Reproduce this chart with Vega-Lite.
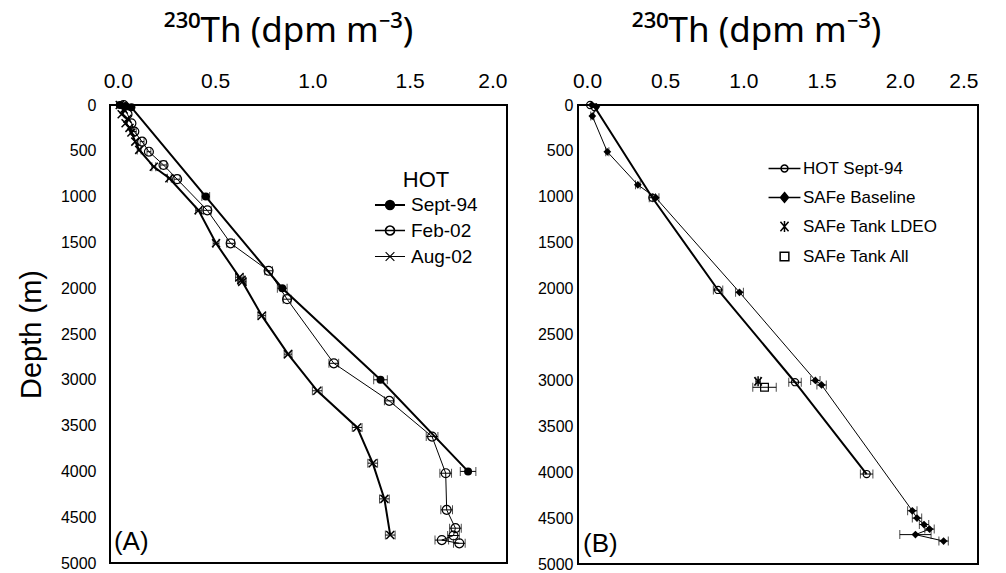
{
  "$schema": "https://vega.github.io/schema/vega-lite/v6.json",
  "background": "white",
  "padding": {"left": 16, "top": 12, "right": 5, "bottom": 5},
  "config": {
    "view": {"stroke": "black", "strokeWidth": 2},
    "font": "Liberation Sans",
    "axis": {"grid": false, "domain": false, "ticks": false, "labelColor": "black", "titleColor": "black", "titleFontWeight": "normal", "labelFont": "Liberation Sans", "titleFont": "Liberation Sans"},
    "legend": {"labelFont": "Liberation Sans", "titleFont": "Liberation Sans", "labelColor": "black", "titleColor": "black"}
  },
  "datasets": {
    "A": [
      {"s": "Sept-94", "d": 0, "v": 0.01, "e": 0},
      {"s": "Sept-94", "d": 10, "v": 0.04, "e": 0},
      {"s": "Sept-94", "d": 25, "v": 0.07, "e": 0},
      {"s": "Sept-94", "d": 1000, "v": 0.452, "e": 0.02},
      {"s": "Sept-94", "d": 2000, "v": 0.845, "e": 0.025},
      {"s": "Sept-94", "d": 3000, "v": 1.35, "e": 0.035},
      {"s": "Sept-94", "d": 4000, "v": 1.8, "e": 0.04},
      {"s": "Feb-02", "d": 0, "v": 0.03, "e": 0},
      {"s": "Feb-02", "d": 100, "v": 0.05, "e": 0},
      {"s": "Feb-02", "d": 200, "v": 0.07, "e": 0},
      {"s": "Feb-02", "d": 290, "v": 0.085, "e": 0.01},
      {"s": "Feb-02", "d": 400, "v": 0.125, "e": 0.01},
      {"s": "Feb-02", "d": 510, "v": 0.16, "e": 0.01},
      {"s": "Feb-02", "d": 655, "v": 0.235, "e": 0.015},
      {"s": "Feb-02", "d": 810, "v": 0.305, "e": 0.015},
      {"s": "Feb-02", "d": 1150, "v": 0.46, "e": 0.02},
      {"s": "Feb-02", "d": 1510, "v": 0.58, "e": 0.02},
      {"s": "Feb-02", "d": 1810, "v": 0.775, "e": 0.02},
      {"s": "Feb-02", "d": 2120, "v": 0.87, "e": 0.02},
      {"s": "Feb-02", "d": 2820, "v": 1.11, "e": 0.025},
      {"s": "Feb-02", "d": 3230, "v": 1.395, "e": 0.025},
      {"s": "Feb-02", "d": 3620, "v": 1.615, "e": 0.03},
      {"s": "Feb-02", "d": 4020, "v": 1.685, "e": 0.03},
      {"s": "Feb-02", "d": 4420, "v": 1.69, "e": 0.03},
      {"s": "Feb-02", "d": 4620, "v": 1.735, "e": 0.03},
      {"s": "Feb-02", "d": 4700, "v": 1.725, "e": 0.03},
      {"s": "Feb-02", "d": 4750, "v": 1.665, "e": 0.035},
      {"s": "Feb-02", "d": 4785, "v": 1.755, "e": 0.03},
      {"s": "Aug-02", "d": 0, "v": 0.01, "e": 0},
      {"s": "Aug-02", "d": 50, "v": 0.03, "e": 0},
      {"s": "Aug-02", "d": 100, "v": 0.02, "e": 0},
      {"s": "Aug-02", "d": 150, "v": 0.05, "e": 0},
      {"s": "Aug-02", "d": 200, "v": 0.04, "e": 0},
      {"s": "Aug-02", "d": 250, "v": 0.06, "e": 0},
      {"s": "Aug-02", "d": 300, "v": 0.07, "e": 0},
      {"s": "Aug-02", "d": 400, "v": 0.09, "e": 0},
      {"s": "Aug-02", "d": 490, "v": 0.11, "e": 0.01},
      {"s": "Aug-02", "d": 675, "v": 0.185, "e": 0.01},
      {"s": "Aug-02", "d": 800, "v": 0.265, "e": 0.01},
      {"s": "Aug-02", "d": 1150, "v": 0.415, "e": 0.015},
      {"s": "Aug-02", "d": 1510, "v": 0.505, "e": 0.015},
      {"s": "Aug-02", "d": 1880, "v": 0.625, "e": 0.02},
      {"s": "Aug-02", "d": 1910, "v": 0.635, "e": 0.02},
      {"s": "Aug-02", "d": 1930, "v": 0.64, "e": 0.02},
      {"s": "Aug-02", "d": 2300, "v": 0.74, "e": 0.02},
      {"s": "Aug-02", "d": 2720, "v": 0.875, "e": 0.02},
      {"s": "Aug-02", "d": 3120, "v": 1.025, "e": 0.025},
      {"s": "Aug-02", "d": 3520, "v": 1.23, "e": 0.025},
      {"s": "Aug-02", "d": 3910, "v": 1.31, "e": 0.025},
      {"s": "Aug-02", "d": 4300, "v": 1.37, "e": 0.025},
      {"s": "Aug-02", "d": 4695, "v": 1.4, "e": 0.025}
    ],
    "B": [
      {"s": "HOT Sept-94", "d": 0, "v": 0.02, "e": 0},
      {"s": "HOT Sept-94", "d": 25, "v": 0.05, "e": 0},
      {"s": "HOT Sept-94", "d": 1010, "v": 0.418, "e": 0.02},
      {"s": "HOT Sept-94", "d": 2015, "v": 0.838, "e": 0.03},
      {"s": "HOT Sept-94", "d": 3020, "v": 1.33, "e": 0.04},
      {"s": "HOT Sept-94", "d": 4020, "v": 1.788, "e": 0.04},
      {"s": "SAFe Baseline", "d": 0, "v": 0.03, "e": 0},
      {"s": "SAFe Baseline", "d": 20, "v": 0.06, "e": 0},
      {"s": "SAFe Baseline", "d": 120, "v": 0.034, "e": 0.01},
      {"s": "SAFe Baseline", "d": 510, "v": 0.13, "e": 0.01},
      {"s": "SAFe Baseline", "d": 870, "v": 0.325, "e": 0.015},
      {"s": "SAFe Baseline", "d": 1010, "v": 0.44, "e": 0.02},
      {"s": "SAFe Baseline", "d": 2040, "v": 0.975, "e": 0.025},
      {"s": "SAFe Baseline", "d": 3000, "v": 1.46, "e": 0.03},
      {"s": "SAFe Baseline", "d": 3050, "v": 1.5, "e": 0.03},
      {"s": "SAFe Baseline", "d": 4420, "v": 2.08, "e": 0.03},
      {"s": "SAFe Baseline", "d": 4500, "v": 2.11, "e": 0.03},
      {"s": "SAFe Baseline", "d": 4570, "v": 2.155, "e": 0.03},
      {"s": "SAFe Baseline", "d": 4620, "v": 2.19, "e": 0.03},
      {"s": "SAFe Baseline", "d": 4680, "v": 2.1, "e": 0.1},
      {"s": "SAFe Baseline", "d": 4750, "v": 2.28, "e": 0.03},
      {"s": "SAFe Tank LDEO", "d": 3010, "v": 1.094, "e": 0.015},
      {"s": "SAFe Tank All", "d": 3075, "v": 1.135, "e": 0.075}
    ]
  },
  "resolve": {"scale": {"shape": "independent", "fill": "independent", "stroke": "independent", "strokeWidth": "independent"}, "legend": {"shape": "independent", "fill": "independent", "stroke": "independent", "strokeWidth": "independent"}},
  "bounds": "flush",
  "spacing": 71,
  "hconcat": [
    {
      "width": 397,
      "height": 458,
      "data": {"name": "A"},
      "encoding": {
        "x": {"field": "v", "type": "quantitative", "scale": {"domain": [-0.04, 2.0], "nice": false, "zero": false},
              "axis": {"orient": "top", "values": [0, 0.5, 1, 1.5, 2], "format": ".1f", "title": "²³⁰Th (dpm m⁻³)", "titleFont": "Noto Sans", "labelFontSize": 21, "titleFontSize": 35, "labelPadding": 14, "titlePadding": 22, "titleX": 178}},
        "y": {"field": "d", "type": "quantitative", "scale": {"domain": [0, 5000], "nice": false, "reverse": true},
              "axis": {"values": [0, 500, 1000, 1500, 2000, 2500, 3000, 3500, 4000, 4500, 5000], "format": "d", "title": "Depth (m)", "labelFontSize": 16, "titleFontSize": 29, "labelPadding": 14, "titlePadding": 14}}
      },
      "layer": [
        {"transform": [{"filter": "datum.s === 'Sept-94'"}], "mark": {"type": "line", "color": "black", "strokeWidth": 2}, "encoding": {"order": {"field": "d", "type": "quantitative"}}},
        {"transform": [{"filter": "datum.s === 'Feb-02'"}], "mark": {"type": "line", "color": "black", "strokeWidth": 1}, "encoding": {"order": {"field": "d", "type": "quantitative"}}},
        {"transform": [{"filter": "datum.s === 'Aug-02'"}], "mark": {"type": "line", "color": "black", "strokeWidth": 2}, "encoding": {"order": {"field": "d", "type": "quantitative"}}},
        {"transform": [{"filter": "datum.e > 0"}], "mark": {"type": "errorbar", "color": "black", "ticks": {"size": 9, "color": "black"}}, "encoding": {"xError": {"field": "e"}}},
        {"transform": [{"filter": "datum.s === 'Sept-94'"}], "mark": {"type": "point", "shape": "circle", "filled": true, "color": "black", "size": 64, "opacity": 1}},
        {"transform": [{"filter": "datum.s === 'Feb-02'"}], "mark": {"type": "point", "shape": "circle", "filled": false, "color": "black", "size": 80, "strokeWidth": 1.2, "opacity": 1}},
        {"transform": [{"filter": "datum.s === 'Aug-02'"}], "mark": {"type": "point", "shape": "M-1,-1L1,1M-1,1L1,-1", "filled": false, "color": "black", "size": 64, "strokeWidth": 1.5, "opacity": 1}},
        {"data": {"values": [{"label": "(A)", "v": -0.02, "d": 4770}]}, "mark": {"type": "text", "align": "left", "baseline": "middle", "fontSize": 26, "color": "black"}, "encoding": {"text": {"field": "label"}}},
        {
          "data": {"values": []},
          "mark": {"type": "point", "filled": true, "opacity": 1},
          "encoding": {
            "x": {"value": 0}, "y": {"value": 0},
            "shape": {"field": "s", "type": "nominal",
              "scale": {"domain": ["Sept-94", "Feb-02", "Aug-02"], "range": ["M-1.1,0L1.1,0M-0.3,0A0.3,0.3,0,1,1,0.3,0A0.3,0.3,0,1,1,-0.3,0Z", "M-1.1,0L1.1,0M-0.33,0A0.33,0.33,0,1,1,0.33,0A0.33,0.33,0,1,1,-0.33,0Z", "M-1.1,0L1.1,0M-0.32,-0.32L0.32,0.32M-0.32,0.32L0.32,-0.32"]},
              "legend": {"orient": "none", "legendX": 265, "legendY": 65, "title": "HOT", "titleFontSize": 22, "titleFontWeight": "normal", "titleAnchor": "middle", "titlePadding": -2, "labelFontSize": 19, "symbolSize": 745, "rowPadding": 1, "labelOffset": 6, "padding": 0}},
            "fill": {"field": "s", "type": "nominal",
              "scale": {"domain": ["Sept-94", "Feb-02", "Aug-02"], "range": ["black", "white", "white"]},
              "legend": {"orient": "none", "legendX": 265, "legendY": 65, "title": "HOT", "titleFontSize": 22, "titleFontWeight": "normal", "titleAnchor": "middle", "titlePadding": -2, "labelFontSize": 19, "symbolSize": 745, "rowPadding": 1, "labelOffset": 6, "padding": 0}},
            "stroke": {"field": "s", "type": "nominal",
              "scale": {"domain": ["Sept-94", "Feb-02", "Aug-02"], "range": ["black", "black", "black"]},
              "legend": {"orient": "none", "legendX": 265, "legendY": 65, "title": "HOT", "titleFontSize": 22, "titleFontWeight": "normal", "titleAnchor": "middle", "titlePadding": -2, "labelFontSize": 19, "symbolSize": 745, "rowPadding": 1, "labelOffset": 6, "padding": 0}},
            "strokeWidth": {"field": "s", "type": "nominal",
              "scale": {"domain": ["Sept-94", "Feb-02", "Aug-02"], "range": [2.2, 1.1, 1.8]},
              "legend": {"orient": "none", "legendX": 265, "legendY": 65, "title": "HOT", "titleFontSize": 22, "titleFontWeight": "normal", "titleAnchor": "middle", "titlePadding": -2, "labelFontSize": 19, "symbolSize": 745, "rowPadding": 1, "labelOffset": 6, "padding": 0}}
          }
        }
      ]
    },
    {
      "width": 400,
      "height": 459,
      "data": {"name": "B"},
      "encoding": {
        "x": {"field": "v", "type": "quantitative", "scale": {"domain": [-0.0575, 2.5], "nice": false, "zero": false},
              "axis": {"orient": "top", "values": [0, 0.5, 1, 1.5, 2, 2.5], "format": ".1f", "title": "²³⁰Th (dpm m⁻³)", "titleFont": "Noto Sans", "labelFontSize": 21, "titleFontSize": 35, "labelPadding": 14, "titlePadding": 22, "titleX": 178}},
        "y": {"field": "d", "type": "quantitative", "scale": {"domain": [0, 5000], "nice": false, "reverse": true},
              "axis": {"values": [0, 500, 1000, 1500, 2000, 2500, 3000, 3500, 4000, 4500, 5000], "format": "d", "title": null, "labelFontSize": 16, "labelPadding": 5}}
      },
      "layer": [
        {"transform": [{"filter": "datum.s === 'HOT Sept-94'"}], "mark": {"type": "line", "color": "black", "strokeWidth": 2}, "encoding": {"order": {"field": "d", "type": "quantitative"}}},
        {"transform": [{"filter": "datum.s === 'SAFe Baseline'"}], "mark": {"type": "line", "color": "black", "strokeWidth": 1}, "encoding": {"order": {"field": "d", "type": "quantitative"}}},
        {"transform": [{"filter": "datum.e > 0"}], "mark": {"type": "errorbar", "color": "black", "ticks": {"size": 9, "color": "black"}}, "encoding": {"xError": {"field": "e"}}},
        {"transform": [{"filter": "datum.s === 'HOT Sept-94'"}], "mark": {"type": "point", "shape": "circle", "filled": false, "color": "black", "size": 50, "strokeWidth": 1.2, "opacity": 1}},
        {"transform": [{"filter": "datum.s === 'SAFe Baseline'"}], "mark": {"type": "point", "shape": "diamond", "filled": true, "color": "black", "size": 60, "opacity": 1}},
        {"transform": [{"filter": "datum.s === 'SAFe Tank LDEO'"}], "mark": {"type": "point", "shape": "M-0.9,-1L0.9,1M-0.9,1L0.9,-1M0,-1.2L0,1.2", "filled": false, "color": "black", "size": 70, "strokeWidth": 1.5, "opacity": 1}},
        {"transform": [{"filter": "datum.s === 'SAFe Tank All'"}], "mark": {"type": "point", "shape": "square", "filled": false, "color": "black", "size": 60, "strokeWidth": 1.2, "opacity": 1}},
        {"data": {"values": [{"label": "(B)", "v": -0.025, "d": 4780}]}, "mark": {"type": "text", "align": "left", "baseline": "middle", "fontSize": 26, "color": "black"}, "encoding": {"text": {"field": "label"}}},
        {
          "data": {"values": []},
          "mark": {"type": "point", "filled": true, "opacity": 1},
          "encoding": {
            "x": {"value": 0}, "y": {"value": 0},
            "shape": {"field": "s", "type": "nominal",
              "scale": {"domain": ["HOT Sept-94", "SAFe Baseline", "SAFe Tank LDEO", "SAFe Tank All"], "range": ["M-1.1,0L1.1,0M-0.24,0A0.24,0.24,0,1,1,0.24,0A0.24,0.24,0,1,1,-0.24,0Z", "M-1.1,0L1.1,0M0,-0.34L0.28,0L0,0.34L-0.28,0Z", "M-0.28,-0.32L0.28,0.32M-0.28,0.32L0.28,-0.32M0,-0.38L0,0.38", "M-0.3,-0.3L0.3,-0.3L0.3,0.3L-0.3,0.3Z"]},
              "legend": {"orient": "none", "legendX": 191, "legendY": 48, "title": null, "labelFontSize": 17, "symbolSize": 841, "rowPadding": 5, "labelOffset": 3, "padding": 0}},
            "fill": {"field": "s", "type": "nominal",
              "scale": {"domain": ["HOT Sept-94", "SAFe Baseline", "SAFe Tank LDEO", "SAFe Tank All"], "range": ["white", "black", "white", "white"]},
              "legend": {"orient": "none", "legendX": 191, "legendY": 48, "title": null, "labelFontSize": 17, "symbolSize": 841, "rowPadding": 5, "labelOffset": 3, "padding": 0}},
            "stroke": {"field": "s", "type": "nominal",
              "scale": {"domain": ["HOT Sept-94", "SAFe Baseline", "SAFe Tank LDEO", "SAFe Tank All"], "range": ["black", "black", "black", "black"]},
              "legend": {"orient": "none", "legendX": 191, "legendY": 48, "title": null, "labelFontSize": 17, "symbolSize": 841, "rowPadding": 5, "labelOffset": 3, "padding": 0}},
            "strokeWidth": {"field": "s", "type": "nominal",
              "scale": {"domain": ["HOT Sept-94", "SAFe Baseline", "SAFe Tank LDEO", "SAFe Tank All"], "range": [1.5, 1.5, 1.3, 1.2]},
              "legend": {"orient": "none", "legendX": 191, "legendY": 48, "title": null, "labelFontSize": 17, "symbolSize": 841, "rowPadding": 5, "labelOffset": 3, "padding": 0}}
          }
        }
      ]
    }
  ]
}
